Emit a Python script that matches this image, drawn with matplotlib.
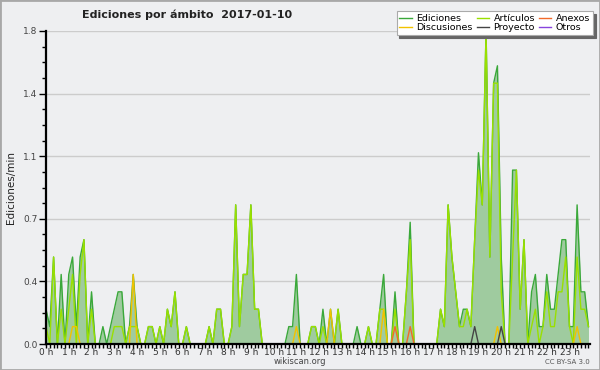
import matplotlib
matplotlib.use("Agg")
import matplotlib.pyplot as plt
import numpy as np
from matplotlib.patches import Rectangle
from matplotlib.ticker import FixedLocator, MultipleLocator

# 10-minute slots, edits per minute (one row per 2 hours)
ediciones = [
    0.2, 0.1, 0.5, 0.0, 0.4, 0.0, 0.4, 0.5, 0.1, 0.5, 0.6, 0.0,
    0.3, 0.0, 0.0, 0.1, 0.0, 0.1, 0.2, 0.3, 0.3, 0.0, 0.1, 0.4,
    0.1, 0.0, 0.0, 0.1, 0.1, 0.0, 0.1, 0.0, 0.2, 0.1, 0.3, 0.0,
    0.0, 0.1, 0.0, 0.0, 0.0, 0.0, 0.0, 0.1, 0.0, 0.2, 0.2, 0.0,
    0.0, 0.1, 0.8, 0.1, 0.4, 0.4, 0.8, 0.2, 0.2, 0.0, 0.0, 0.0,
    0.0, 0.0, 0.0, 0.0, 0.1, 0.1, 0.4, 0.0, 0.0, 0.0, 0.1, 0.1,
    0.0, 0.2, 0.0, 0.2, 0.0, 0.2, 0.0, 0.0, 0.0, 0.0, 0.1, 0.0,
    0.0, 0.1, 0.0, 0.0, 0.2, 0.4, 0.0, 0.0, 0.3, 0.0, 0.0, 0.3,
    0.7, 0.0, 0.0, 0.0, 0.0, 0.0, 0.0, 0.0, 0.2, 0.1, 0.8, 0.5,
    0.3, 0.1, 0.2, 0.2, 0.1, 0.6, 1.1, 0.8, 1.8, 0.5, 1.5, 1.6,
    0.5, 0.0, 0.0, 1.0, 1.0, 0.2, 0.6, 0.0, 0.3, 0.4, 0.1, 0.1,
    0.4, 0.2, 0.2, 0.4, 0.6, 0.6, 0.1, 0.1, 0.8, 0.3, 0.3, 0.1,
]
articulos = [
    0.1, 0.0, 0.5, 0.0, 0.2, 0.0, 0.2, 0.4, 0.0, 0.4, 0.6, 0.0,
    0.2, 0.0, 0.0, 0.0, 0.0, 0.0, 0.1, 0.1, 0.1, 0.0, 0.1, 0.1,
    0.1, 0.0, 0.0, 0.1, 0.1, 0.0, 0.1, 0.0, 0.2, 0.1, 0.3, 0.0,
    0.0, 0.1, 0.0, 0.0, 0.0, 0.0, 0.0, 0.1, 0.0, 0.2, 0.2, 0.0,
    0.0, 0.1, 0.8, 0.1, 0.4, 0.4, 0.8, 0.2, 0.2, 0.0, 0.0, 0.0,
    0.0, 0.0, 0.0, 0.0, 0.0, 0.0, 0.0, 0.0, 0.0, 0.0, 0.1, 0.1,
    0.0, 0.1, 0.0, 0.0, 0.0, 0.2, 0.0, 0.0, 0.0, 0.0, 0.0, 0.0,
    0.0, 0.1, 0.0, 0.0, 0.2, 0.2, 0.0, 0.0, 0.2, 0.0, 0.0, 0.3,
    0.6, 0.0, 0.0, 0.0, 0.0, 0.0, 0.0, 0.0, 0.2, 0.1, 0.8, 0.5,
    0.3, 0.1, 0.1, 0.2, 0.1, 0.6, 1.0, 0.8, 1.8, 0.5, 1.5, 1.5,
    0.3, 0.0, 0.0, 0.5, 1.0, 0.2, 0.6, 0.0, 0.1, 0.2, 0.0, 0.1,
    0.3, 0.1, 0.1, 0.3, 0.3, 0.5, 0.1, 0.0, 0.5, 0.2, 0.2, 0.1,
]
# sparse series: slot index -> value
discusiones_pts = {7: 0.1, 8: 0.1, 23: 0.4, 66: 0.1, 75: 0.2, 89: 0.2, 119: 0.1, 140: 0.1}
proyecto_pts = {113: 0.1, 120: 0.1}
anexos_pts = {92: 0.1, 96: 0.1}
otros_pts = {}

hour_labels = [f"{h} h" for h in range(24)]
y_ticks = [0.0, 0.36, 0.72, 1.08, 1.44, 1.8]


def from_points(pts, n):
    arr = np.zeros(n)
    for k, v in pts.items():
        arr[k] = v
    return arr


n = len(ediciones)
t = np.arange(n) / 6.0
discusiones = from_points(discusiones_pts, n)
proyecto = from_points(proyecto_pts, n)
anexos = from_points(anexos_pts, n)
otros = from_points(otros_pts, n)

bg = "#eeeff1"
fig = plt.figure(figsize=(6, 3.7), dpi=100, facecolor=bg)
ax = fig.add_axes([46 / 600, 26 / 370, 544 / 600, 313 / 370])
ax.set_facecolor(bg)

ax.fill_between(t, ediciones, 0, color="#9fcb9f", lw=0, zorder=1)
l_ed, = ax.plot(t, ediciones, color="#3aa83a", lw=1.0, zorder=3, label="Ediciones")
l_art, = ax.plot(t, articulos, color="#99e000", lw=1.0, zorder=4, label="Artículos")
l_dis, = ax.plot(t, discusiones, color="#f2c200", lw=1.0, zorder=5, label="Discusiones")
l_anx, = ax.plot(t, anexos, color="#f26a2a", lw=1.0, zorder=5, label="Anexos")
l_pro, = ax.plot(t, proyecto, color="#444444", lw=1.0, zorder=6, label="Proyecto")
l_otr, = ax.plot(t, otros, color="#8844dd", lw=1.0, zorder=2, label="Otros")

ax.set_xlim(0, 23.9)
ax.set_ylim(0, 1.8)

ax.yaxis.set_major_locator(FixedLocator(y_ticks))
ax.set_yticklabels([f"{v:.1f}" for v in y_ticks])
ax.yaxis.set_minor_locator(MultipleLocator(0.09))
ax.xaxis.set_major_locator(FixedLocator(range(24)))
ax.set_xticklabels(hour_labels)
ax.xaxis.set_minor_locator(MultipleLocator(1 / 6))

ax.tick_params(axis="y", which="major", length=5, width=1, labelsize=6.5,
               labelcolor="#444444", pad=1)
ax.tick_params(axis="y", which="minor", length=3, width=1)
ax.tick_params(axis="x", which="both", length=3, width=1, labelsize=6.5,
               labelcolor="#333333", pad=0)

ax.grid(axis="y", which="major", color="#cccccc", lw=1)
ax.set_axisbelow(True)
for side in ["top", "right"]:
    ax.spines[side].set_visible(False)
for side in ["left", "bottom"]:
    ax.spines[side].set_linewidth(1.6)
    ax.spines[side].set_zorder(10)

ax.set_ylabel("Ediciones/min", fontsize=7.5, color="#222222", labelpad=5)

fig.text(187 / 600, 1 - 15 / 370, "Ediciones por ámbito  2017-01-10",
         ha="center", va="center", fontsize=8, fontweight="bold", color="#222222")
fig.text(300 / 600, 1 - 362 / 370, "wikiscan.org", ha="center", va="center",
         fontsize=6, color="#444444")
fig.text(590 / 600, 1 - 362 / 370, "CC BY-SA 3.0", ha="right", va="center",
         fontsize=5, color="#555555")

leg = ax.legend(handles=[l_ed, l_dis, l_art, l_pro, l_anx, l_otr], ncol=3,
                loc="upper right", bbox_to_anchor=(593 / 600, 1 - 11 / 370),
                bbox_transform=fig.transFigure, fontsize=6.8, frameon=True,
                fancybox=False, shadow={"color": "#666666", "alpha": 1},
                handlelength=1.3, handletextpad=0.5, columnspacing=0.4,
                labelspacing=0.05, borderpad=0.3, borderaxespad=0)
leg.get_frame().set_edgecolor("#aaaaaa")
leg.get_frame().set_linewidth(0.8)
leg.set_zorder(20)

fig.patches.append(Rectangle((0, 0), 1, 1, transform=fig.transFigure,
                             fill=False, edgecolor="#a8a8a8", lw=2))

fig.savefig("out.png", dpi=100, facecolor=bg)
